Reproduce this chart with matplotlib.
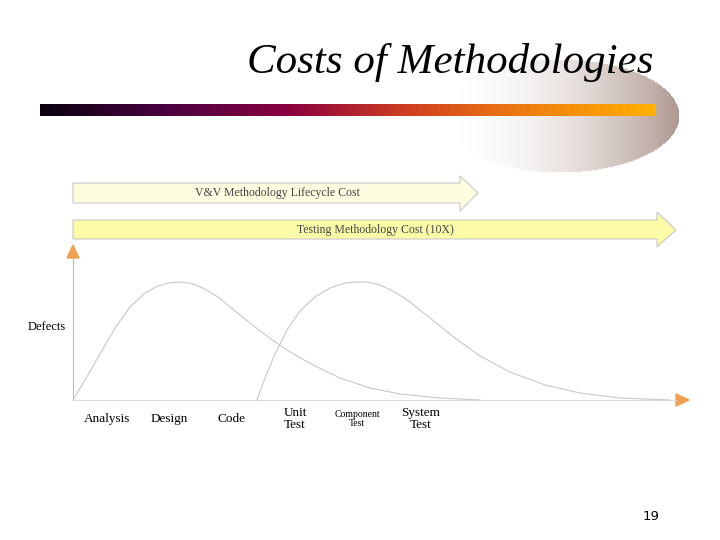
import numpy as np
import matplotlib.pyplot as plt
from matplotlib.colors import LinearSegmentedColormap
from matplotlib.patches import Polygon

# Slide content
title = 'Costs of Methodologies'
phases = ['Analysis', 'Design', 'Code', 'Unit\nTest', 'Component\nTest', 'System\nTest']
phase_x = [107, 169, 231, 295, 357, 421]
page = '19'

# Defect curves (slide pixel units)
vv_x = [73, 85, 100, 115, 130, 145, 158, 168, 178, 190, 203, 218, 235, 255, 275, 295, 315, 340, 370, 400, 440, 480]
vv_y = [400, 380, 354, 328, 307, 293, 286, 283, 282, 283, 288, 297, 311, 327, 342, 355, 366, 378, 388, 394, 398, 400]
test_x = [257, 265, 275, 287, 300, 315, 330, 345, 357, 367, 380, 395, 410, 430, 455, 480, 510, 545, 580, 620, 670]
test_y = [400, 378, 354, 330, 311, 297, 288, 283, 282, 282, 285, 292, 302, 318, 338, 356, 372, 385, 393, 398, 400]

fig = plt.figure(figsize=(7.2, 5.4), dpi=100)
ax = fig.add_axes([0, 0, 1, 1])
ax.set_xlim(0, 720)
ax.set_ylim(540, 0)
ax.axis('off')

# glow behind the title bar
gx = np.linspace(440, 680, 240)
gy = np.linspace(58, 175, 120)
X, Y = np.meshgrid(gx, gy)
inside = ((X - 560) / 120) ** 2 + ((Y - 116) / 57) ** 2 <= 1
rgba = np.zeros(X.shape + (4,))
t = np.clip((X - 440) / 240, 0, 1)
rgba[..., 0] = 0.55
rgba[..., 1] = 0.42
rgba[..., 2] = 0.38
rgba[..., 3] = np.where(inside, t ** 2 * 0.7, 0)
ax.imshow(rgba, extent=[440, 680, 175, 58], zorder=1, interpolation='bilinear')

# gradient title bar
cmap = LinearSegmentedColormap.from_list('bar', ['#0a0010', '#4a0040', '#8a0040', '#d04020', '#f08010', '#ffb000'])
ax.imshow(np.linspace(0, 1, 300)[None, :], cmap=cmap, aspect='auto',
          extent=[40, 656, 116, 104], zorder=2)
ax.plot([40, 40], [110, 110], color='#0a0010', lw=9, solid_capstyle='round', zorder=2)
ax.plot([656, 656], [110, 110], color='#ffb000', lw=9, solid_capstyle='round', zorder=2)
ax.text(450, 62, title, fontsize=31, style='italic', family='Liberation Serif',
        ha='center', va='center', zorder=3)

# cost arrows
ax.add_patch(Polygon([(73, 183), (460, 183), (460, 176), (478, 193), (460, 211), (460, 203), (73, 203)],
                     closed=True, facecolor='#fdfde0', edgecolor='#c8c8c8', lw=0.8))
ax.text(277, 193, 'V&V Methodology Lifecycle Cost', fontsize=8.5, family='Liberation Serif',
        ha='center', va='center', color='#444444')
ax.add_patch(Polygon([(73, 220), (657, 220), (657, 212), (676, 230), (657, 247), (657, 239), (73, 239)],
                     closed=True, facecolor='#fbfba8', edgecolor='#c8c8c8', lw=0.8))
ax.text(375, 230, 'Testing Methodology Cost (10X)', fontsize=8.5, family='Liberation Serif',
        ha='center', va='center', color='#444444')

# axes with orange arrow heads
ax.plot([73, 73], [400, 258], color='#bbbbbb', lw=0.8)
ax.plot([73, 676], [400, 400], color='#dddddd', lw=0.8)
ax.add_patch(Polygon([(67, 258), (79, 258), (73, 245)], color='#f0a050'))
ax.add_patch(Polygon([(676, 394), (676, 406), (689, 400)], color='#f0a050'))

ax.plot(vv_x, vv_y, color='#c8c8c8', lw=0.8)
ax.plot(test_x, test_y, color='#c8c8c8', lw=0.8)

ax.text(47, 327, 'Defects', fontsize=9, family='Liberation Serif', ha='center', va='center')
for x, lab in zip(phase_x, phases):
    fs = 7 if lab.startswith('Component') else 9.5
    ax.text(x, 419, lab, fontsize=fs, family='Liberation Serif', ha='center', va='center',
            linespacing=1.1)

ax.text(651, 516, page, fontsize=9.5, ha='center', va='center')

fig.savefig('out.png', dpi=100)
